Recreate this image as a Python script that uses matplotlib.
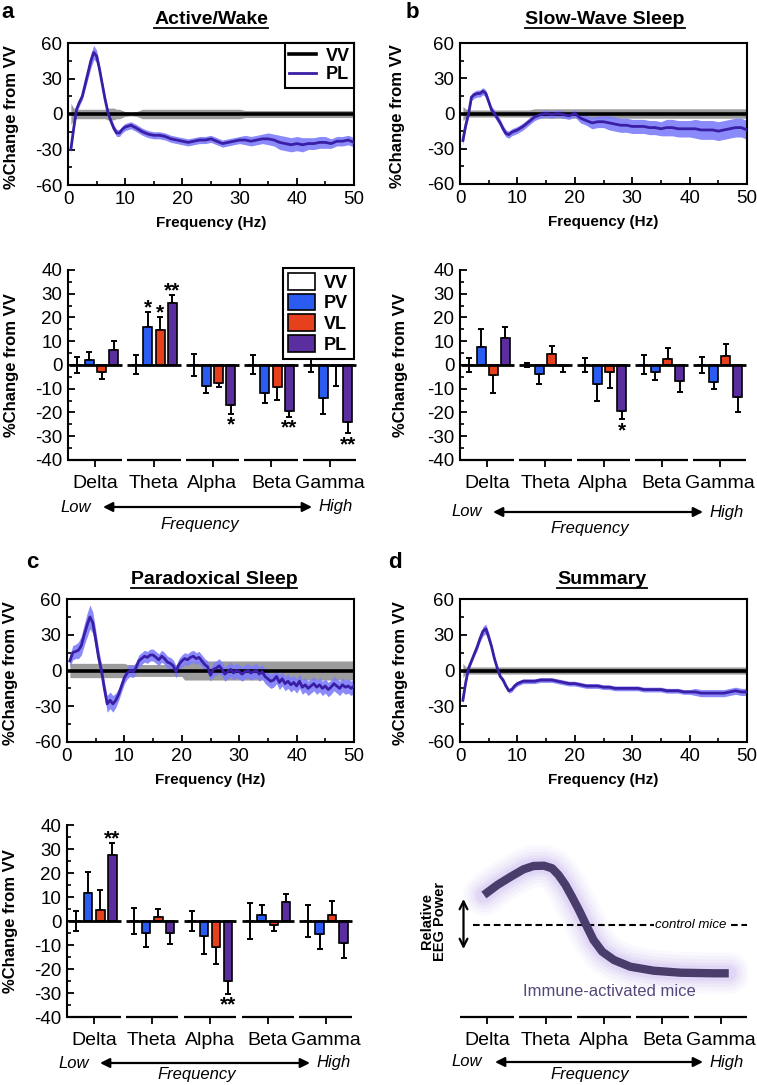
import numpy as np
import matplotlib
matplotlib.use("Agg")
import matplotlib.pyplot as plt
from matplotlib.lines import Line2D
from matplotlib.patches import Patch, FancyArrowPatch
from matplotlib.ticker import MultipleLocator

plt.rcParams['font.family'] = ['Liberation Sans', 'DejaVu Sans']
plt.rcParams['axes.unicode_minus'] = False
plt.rcParams['axes.linewidth'] = 1.5

W, H = 757, 1085

# ---------------- spectra (percent change from VV) ----------------
freq = [0.5, 1, 1.5, 2, 2.5, 3, 3.5, 4, 4.5, 5, 5.5, 6, 6.5, 7, 7.5, 8, 8.5, 9, 9.5, 10] + list(range(11, 51))

pl_wake = [-30, -12, 4, 10, 15, 25, 35, 45, 52, 49, 38, 25, 12, 1, -6, -12, -16, -16, -13, -11,
           -9.5, -12, -15, -17, -18, -18, -19, -21, -22, -23,
           -24, -23, -22, -22, -21, -23, -25, -24, -23, -22,
           -22, -23, -22, -21, -21, -22, -24, -25, -26, -25,
           -26, -25, -25, -24, -24, -25, -23, -23, -22, -24]
pl_wake_sem = [3, 3, 3, 3, 3, 4, 5, 6, 6, 5, 4, 3, 3, 3, 3, 3, 3, 3, 3, 3,
               3, 3, 3, 3, 3, 3, 3, 3, 3, 3, 3, 3, 3, 3, 3, 3, 3, 3, 3, 3,
               4, 4, 4, 4, 5, 5, 6, 6, 6, 6, 6, 5, 5, 5, 5, 4, 4, 4, 4, 4]
vv_wake_sem = [9, 5, 4, 4, 4, 4, 4, 4, 4, 4, 4, 4, 4, 5, 5, 5, 4, 4, 3, 2,
               1.5, 2, 4, 4, 4, 4, 4, 4, 4, 4, 4, 4, 4, 4, 4, 4, 4, 4, 4, 4,
               3, 3, 3, 3, 3, 3, 3, 3, 3, 3, 3, 3, 3, 3, 3, 3, 3, 3, 3, 3]

pl_sws = [-23, -10, 0, 14, 16, 17, 17, 19, 17, 10, 3, 0, -4, -8, -13, -17, -18, -16, -15, -14,
          -11, -7, -3, -1, 0, -1, 0, -1, -2, 0,
          -4, -6, -8, -7, -7, -8, -9, -10, -10, -11,
          -11, -11, -12, -12, -13, -12, -12, -13, -13, -13,
          -13, -14, -14, -14, -15, -14, -13, -12, -12, -14]
pl_sws_sem = [4, 3, 3, 3, 3, 3, 3, 3, 3, 3, 3, 3, 3, 3, 3, 3, 3, 3, 3, 3,
              3, 3, 3, 3, 3, 3, 3, 3, 3, 3, 4, 4, 5, 5, 5, 6, 6, 6, 6, 6,
              6, 6, 6, 6, 6, 7, 7, 7, 7, 7, 8, 8, 8, 8, 8, 8, 8, 8, 8, 8]
vv_sws_sem = [6, 4, 3, 3, 3, 3, 3, 3, 3, 3, 3, 3, 3, 3, 3, 3, 3, 3, 3, 3,
              3, 3, 4, 4, 4, 4, 4, 4, 4, 4, 4, 4, 4, 4, 4, 4, 4, 4, 4, 4,
              4, 4, 4, 4, 4, 4, 4, 4, 4, 4, 4, 4, 4, 4, 4, 4, 4, 4, 4, 4]

pl_summary = [-25, -10, 2, 8, 14, 20, 27, 33, 35, 28, 20, 10, 2, -5, -8, -13, -17, -16, -13, -11,
              -9, -9, -9, -8, -8, -8, -9, -10, -11, -11,
              -12, -13, -13, -13, -14, -14, -15, -15, -15, -15,
              -15, -16, -16, -16, -16, -17, -17, -17, -18, -18,
              -18, -19, -19, -19, -19, -19, -18, -17, -18, -18]
pl_summary_sem = [3, 2, 2, 2, 2, 3, 3, 4, 4, 4, 3, 2, 2, 2, 2, 2, 2, 2, 2, 2,
                  2, 2, 2, 2, 2, 2, 2, 2, 2, 2, 2, 2, 2, 2, 2, 2, 2, 2, 2, 2,
                  2, 2, 2, 2, 2, 2, 2, 2, 2, 2, 3, 3, 3, 3, 3, 3, 3, 3, 3, 3]
vv_summary_sem = [6, 3, 3, 3, 3, 3, 3, 3, 3, 3, 3, 3, 3, 3, 3, 3, 3, 3, 3, 3,
                  3, 3, 3, 3, 3, 3, 3, 3, 3, 3, 3, 3, 3, 3, 3, 3, 3, 3, 3, 3,
                  3, 3, 3, 3, 3, 3, 3, 3, 3, 3, 3, 3, 3, 3, 3, 3, 3, 3, 3, 3]

freq_ps = [0.5 * i for i in range(1, 101)]
pl_ps = [8, 15, 16, 17, 21, 30, 38, 45, 40, 26,
         11, 0, -15, -28, -25, -28, -25, -20, -13, -6,
         -2, 0, -1, 2, 8, 10, 12, 11, 13, 13,
         11, 9, 12, 10, 7, 6, 4, -1, 5, 8,
         10, 9, 11, 12, 10, 11, 8, 5, 3, -4,
         1, 2, 4, 1, -3, -1, 1, -2, 0, -1,
         -3, -1, 0, -2, -1, 0, -3, -1, -5, -7,
         -9, -8, -5, -10, -7, -11, -9, -12, -10, -13,
         -9, -14, -12, -15, -13, -11, -14, -12, -15, -13,
         -16, -14, -11, -13, -15, -12, -14, -13, -15, -13]
pl_ps_sem = [5, 6, 6, 7, 8, 9, 10, 10, 9, 8,
             7, 6, 6, 7, 7, 7, 6, 5, 5, 5] + [5] * 30 + [6] * 50
vv_ps_sem = [6] * 20 + [5] * 20 + [8] * 60

# ---------------- band power bar data ----------------
bands = ['Delta', 'Theta', 'Alpha', 'Beta', 'Gamma']
groups = ['VV', 'PV', 'VL', 'PL']

wake_vals = {'VV': [0, 0, 0, 0, 0], 'PV': [2, 16, -8.7, -11.6, -14],
             'VL': [-2.8, 14.7, -7.7, -9.1, -0.5], 'PL': [6.5, 26.2, -16.8, -19.2, -23.9]}
wake_err = {'VV': [3.5, 4, 4.5, 4, 3], 'PV': [3.5, 6.4, 3, 4.2, 6.6],
            'VL': [3, 5.4, 1.4, 5.6, 8.5], 'PL': [3.5, 3.3, 3.8, 2.5, 4.9]}
wake_stars = [('PV', 'Theta', '*'), ('VL', 'Theta', '*'), ('PL', 'Theta', '**'),
              ('PL', 'Alpha', '*'), ('PL', 'Beta', '**'), ('PL', 'Gamma', '**')]

sws_vals = {'VV': [0, 0, 0, 0, 0], 'PV': [7.7, -3.8, -8, -2.8, -7],
            'VL': [-4.2, 4.6, -2.8, 2.7, 3.8], 'PL': [11.2, -0.3, -19.2, -6.7, -13.3]}
sws_err = {'VV': [3, 1, 3, 4, 3.5], 'PV': [7.3, 4.2, 7, 3.5, 3.1],
           'VL': [7.7, 3.4, 7, 4.3, 4.9], 'PL': [4.9, 2.8, 3.7, 4.5, 6.3]}
sws_stars = [('PL', 'Alpha', '*')]

ps_vals = {'VV': [0, 0, 0, 0, 0], 'PV': [11.7, -5, -6.3, 2.6, -5.3],
           'VL': [4.5, 1.7, -10.8, -1.5, 2.4], 'PL': [27.4, -5, -25.2, 7.9, -9]}
ps_err = {'VV': [4, 5.3, 4, 7.7, 6.8], 'PV': [8.7, 5.8, 7.3, 3.9, 6.2],
          'VL': [8.3, 3.4, 7, 2.7, 5.9], 'PL': [5.3, 4.5, 5.1, 3.5, 6.4]}
ps_stars = [('PL', 'Delta', '**'), ('PL', 'Alpha', '**')]

# schematic summary curve (relative EEG power, band position)
summary_x = [-0.06, 0.17, 0.40, 0.62, 0.79, 0.97, 1.11, 1.22, 1.34, 1.45,
             1.57, 1.68, 1.82, 1.97, 2.17, 2.45, 2.85, 3.31, 3.88, 4.14]
summary_y = [3.0, 4.0, 4.83, 5.57, 5.9, 5.93, 5.67, 5.0, 4.0, 2.83,
             1.5, 0.17, -1.5, -2.67, -3.5, -4.17, -4.57, -4.77, -4.83, -4.83]

# ---------------- styling ----------------
C_PV = '#2b5cf2'
C_VL = '#e6401c'
C_PL_BAR = '#5a2e9e'
C_PL_LINE = '#3a1fa6'
C_PL_BAND = '#7d7dfb'
C_VV_BAND = '#9c9c9c'
C_CURVE = '#4a3c6b'
C_GLOW = '#bfaaf0'

fig = plt.figure(figsize=(W / 100, H / 100), dpi=100)


def add_ax(x0, y0, x1, y1):
    return fig.add_axes([x0 / W, 1 - y1 / H, (x1 - x0) / W, (y1 - y0) / H])


def ftext(xpx, ypx, s, **kw):
    return fig.text(xpx / W, 1 - ypx / H, s, **kw)


def spectrum(ax, f, pl, pl_sem, vv_sem, ylab_x, legend=False):
    f = np.asarray(f, float)
    pl = np.asarray(pl, float)
    s = np.asarray(pl_sem, float)
    v = np.asarray(vv_sem, float)
    ax.fill_between(f, -v, v, color=C_VV_BAND, lw=0, zorder=1)
    ax.fill_between(f, pl - s, pl + s, color=C_PL_BAND, lw=0, alpha=0.9, zorder=2)
    ax.axhline(0, color='black', lw=2.6, zorder=3, label='VV')
    ax.plot(f, pl, color=C_PL_LINE, lw=2.0, zorder=4, label='PL')
    ax.set_xlim(0, 50)
    ax.set_ylim(-60, 60)
    ax.xaxis.set_major_locator(MultipleLocator(10))
    ax.xaxis.set_minor_locator(MultipleLocator(5))
    ax.yaxis.set_major_locator(MultipleLocator(30))
    ax.yaxis.set_minor_locator(MultipleLocator(15))
    ax.tick_params(which='major', direction='in', length=5, width=1.3, labelsize=13.5, pad=4)
    ax.tick_params(which='minor', direction='in', length=3, width=1.2)
    ax.set_xlabel('Frequency (Hz)', fontsize=11, fontweight='bold', labelpad=6)
    ax.set_ylabel('%Change from VV', fontsize=12, fontweight='bold')
    ax.yaxis.set_label_coords(ylab_x, 0.48)
    if legend:
        leg = ax.legend(loc='upper right', fancybox=False, edgecolor='black',
                        prop={'weight': 'bold', 'size': 13}, handlelength=1.5,
                        labelspacing=0.1, borderpad=0.25, borderaxespad=0.0,
                        handletextpad=0.5, framealpha=1)
        leg.get_frame().set_linewidth(1.5)


def category_axis(ax):
    x = np.arange(len(bands))
    ax.set_xlim(-0.47, len(bands) - 0.53)
    for g in x:
        left = -0.47 if g == 0 else g - 0.455
        ax.plot([left, g + 0.455], [0, 0], transform=ax.get_xaxis_transform(),
                color='black', lw=1.6, clip_on=False, solid_capstyle='butt', zorder=5)
    ax.spines['bottom'].set_visible(False)
    ax.set_xticks(x)
    ax.set_xticklabels(bands)
    ax.tick_params(axis='x', direction='out', length=5, width=1.3, labelsize=14, pad=6)


def band_bars(ax, vals, errs, stars, ylab_x, legend=False):
    x = np.arange(len(bands))
    offsets = [-0.31, -0.105, 0.105, 0.31]
    colors = ['white', C_PV, C_VL, C_PL_BAR]
    handles = []
    for grp, off, col in zip(groups, offsets, colors):
        v = np.asarray(vals[grp], float)
        e = np.asarray(errs[grp], float)
        if grp == 'VV':
            yerr = [e, e]
        else:
            yerr = [np.where(v < 0, e, 0), np.where(v >= 0, e, 0)]
        ax.bar(x + off, v, width=0.15, color=col, edgecolor='black', lw=1.2, zorder=3,
               yerr=yerr, error_kw=dict(ecolor='black', elinewidth=1.4, capsize=2.5,
                                        capthick=1.4, zorder=2))
        handles.append(Patch(facecolor=col, edgecolor='black', lw=1.2, label=grp))
    for g in x:
        ax.plot([g - 0.455, g + 0.455], [0, 0], color='black', lw=2.0, zorder=4,
                solid_capstyle='butt')
    for grp, band, s in stars:
        k = groups.index(grp)
        b = bands.index(band)
        v = vals[grp][b]
        e = errs[grp][b]
        if v >= 0:
            ax.text(b + offsets[k], v + e - 0.6, s, ha='center', va='baseline',
                    fontsize=15, fontweight='bold')
        else:
            ax.text(b + offsets[k], v - e - 0.7, s, ha='center', va='top',
                    fontsize=15, fontweight='bold')
    ax.set_ylim(-40, 40)
    ax.yaxis.set_major_locator(MultipleLocator(10))
    ax.yaxis.set_minor_locator(MultipleLocator(5))
    ax.tick_params(axis='y', which='major', direction='in', length=5, width=1.3,
                   labelsize=13.5, pad=4)
    ax.tick_params(axis='y', which='minor', direction='in', length=3, width=1.2)
    for sp in ('top', 'right'):
        ax.spines[sp].set_visible(False)
    category_axis(ax)
    ax.set_ylabel('%Change from VV', fontsize=12, fontweight='bold')
    ax.yaxis.set_label_coords(ylab_x, 0.5)
    if legend:
        leg = ax.legend(handles=handles, loc='upper right', bbox_to_anchor=(1.02, 1.06),
                        fancybox=False, edgecolor='black', framealpha=1,
                        prop={'weight': 'bold', 'size': 13}, handlelength=1.5,
                        handleheight=1.05, labelspacing=0.12, borderpad=0.3,
                        handletextpad=0.5)
        leg.get_frame().set_linewidth(1.5)


def freq_arrow(low_x, arrow_x0, arrow_x1, high_x, y_arrow, freq_x, y_freq):
    fig.patches.append(FancyArrowPatch(
        (arrow_x0 / W, 1 - y_arrow / H), (arrow_x1 / W, 1 - y_arrow / H),
        transform=fig.transFigure, arrowstyle='<|-|>', mutation_scale=14,
        color='black', lw=1.6, shrinkA=0, shrinkB=0))
    ftext(low_x, y_arrow, 'Low', ha='center', va='center', fontsize=12, style='italic')
    ftext(high_x, y_arrow, 'High', ha='center', va='center', fontsize=12, style='italic')
    ftext(freq_x, y_freq, 'Frequency', ha='center', va='center', fontsize=12, style='italic')


# ---------------- panels ----------------
ax_a1 = add_ax(68, 43, 354, 185)
spectrum(ax_a1, freq, pl_wake, pl_wake_sem, vv_wake_sem, -0.17, legend=True)
ax_b1 = add_ax(460, 43, 747, 184)
spectrum(ax_b1, freq, pl_sws, pl_sws_sem, vv_sws_sem, -0.19)
ax_c1 = add_ax(67, 599, 354, 742)
spectrum(ax_c1, freq_ps, pl_ps, pl_ps_sem, vv_ps_sem, -0.17)
ax_d1 = add_ax(460, 599, 747, 742)
spectrum(ax_d1, freq, pl_summary, pl_summary_sem, vv_summary_sem, -0.18)

ax_a2 = add_ax(68, 270, 357, 460)
band_bars(ax_a2, wake_vals, wake_err, wake_stars, -0.17, legend=True)
ax_b2 = add_ax(460, 270, 747, 460)
band_bars(ax_b2, sws_vals, sws_err, sws_stars, -0.18)
ax_c2 = add_ax(67, 825, 353, 1017)
band_bars(ax_c2, ps_vals, ps_err, ps_stars, -0.17)

# summary schematic
ax_s = add_ax(460, 825, 748, 1017)
for sp in ('top', 'right', 'left'):
    ax_s.spines[sp].set_visible(False)
ax_s.set_yticks([])
ax_s.set_ylim(-9.2, 10)
category_axis(ax_s)
for lw, a in [(30, 0.07), (25, 0.08), (20, 0.10), (15, 0.14), (11, 0.18)]:
    ax_s.plot(summary_x, summary_y, color=C_GLOW, lw=lw, alpha=a,
              solid_capstyle='round', solid_joinstyle='round', zorder=2)
ax_s.plot(summary_x, summary_y, color=C_CURVE, lw=6, solid_capstyle='butt',
          solid_joinstyle='round', zorder=4)
ax_s.plot([-0.24, 2.85], [0, 0], color='black', lw=1.5, ls=(0, (3.2, 1.8)), zorder=3)
ax_s.plot([4.17, 4.45], [0, 0], color='black', lw=1.5, ls=(0, (3.2, 1.8)), zorder=3,
          clip_on=False)
ax_s.text(3.48, 0, 'control mice', ha='center', va='center', fontsize=9.5, style='italic')
ax_s.text(2.09, -6.6, 'Immune-activated mice', ha='center', va='center', fontsize=12,
          color='#56477a')
ax_s.annotate('', xy=(-0.41, 2.6), xytext=(-0.41, -2.4),
              arrowprops=dict(arrowstyle='<->', lw=1.6, color='black', mutation_scale=14,
                              shrinkA=0, shrinkB=0), annotation_clip=False)
ax_s.text(-0.92, 0.4, 'Relative\nEEG Power', rotation=90, ha='center', va='center',
          fontsize=10.5, fontweight='bold', linespacing=0.95, clip_on=False)

# frequency arrows under band axes
freq_arrow(76, 103, 312, 336, 507, 200, 524)
freq_arrow(467, 493, 703, 727, 512, 590, 529)
freq_arrow(74, 100, 310, 334, 1063, 197, 1074)
freq_arrow(467, 495, 703, 727, 1062, 590, 1075)

# titles and panel letters
titles = []
for (cx, cy, s) in [(211, 20, 'Active/Wake'), (605, 20, 'Slow-Wave Sleep'),
                    (214, 580, 'Paradoxical Sleep'), (602, 580, 'Summary')]:
    titles.append(ftext(cx, cy, s, ha='center', va='center', fontsize=14, fontweight='bold'))
for (cx, cy, s) in [(8, 12, 'a'), (412, 12, 'b'), (32, 562, 'c'), (395, 562, 'd')]:
    ftext(cx, cy, s, ha='center', va='center', fontsize=16, fontweight='bold')

fig.canvas.draw()
renderer = fig.canvas.get_renderer()
for t in titles:
    bb = t.get_window_extent(renderer)
    yl = (bb.y0 + 1.0) / H
    fig.add_artist(Line2D([bb.x0 / W, bb.x1 / W], [yl, yl], transform=fig.transFigure,
                          color='black', lw=1.3))

fig.savefig('out.png', dpi=100)
